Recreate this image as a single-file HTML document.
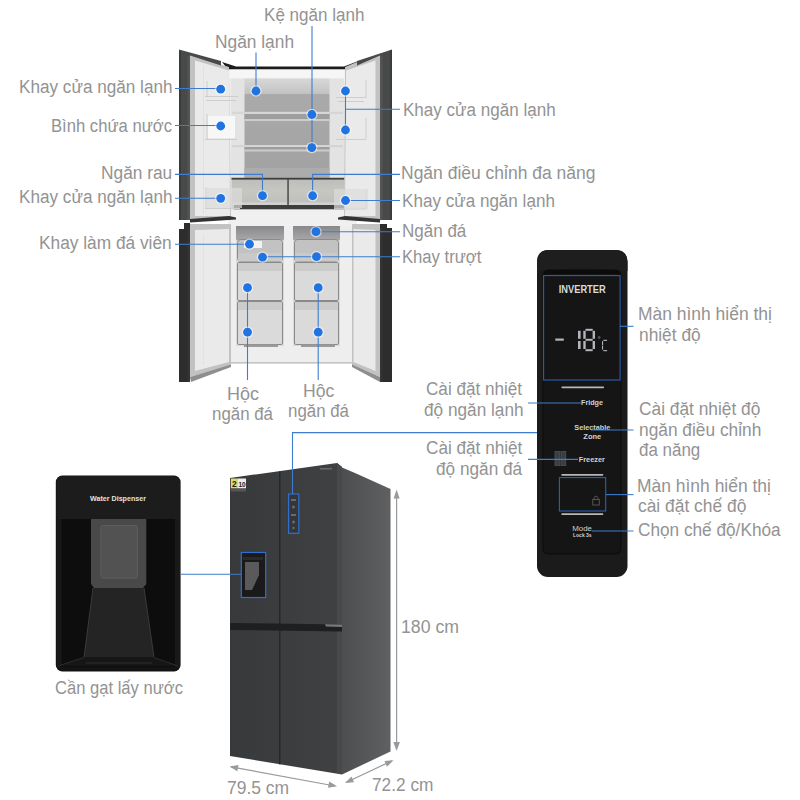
<!DOCTYPE html>
<html><head><meta charset="utf-8"><style>
html,body{margin:0;padding:0;background:#fff;}
body{width:800px;height:800px;position:relative;overflow:hidden;}
svg{position:absolute;left:0;top:0;}
.t{position:absolute;font-family:"Liberation Sans",sans-serif;font-size:18px;line-height:20px;color:#939393;white-space:nowrap;transform-origin:0 0;}
</style></head><body>
<svg width="800" height="800" viewBox="0 0 800 800">
<defs>
  <linearGradient id="sideG" x1="0" x2="1" y1="0" y2="0">
    <stop offset="0" stop-color="#4d4e50"/><stop offset="1" stop-color="#5f6062"/>
  </linearGradient>
  <linearGradient id="crisp" x1="0" x2="0" y1="0" y2="1"><stop offset="0" stop-color="#bcbcb8"/><stop offset="0.4" stop-color="#c6c6c2"/><stop offset="1" stop-color="#bcbcb8"/></linearGradient>
  <linearGradient id="backG" x1="0" x2="0" y1="0" y2="1">
    <stop offset="0" stop-color="#aaaaaa"/><stop offset="1" stop-color="#a2a2a2"/>
  </linearGradient>
  <linearGradient id="topG" x1="0" x2="0" y1="0" y2="1"><stop offset="0" stop-color="#d8d8d8"/><stop offset="1" stop-color="#c2c2c2"/></linearGradient>
  <linearGradient id="fzTop" x1="0" x2="0" y1="0" y2="1"><stop offset="0" stop-color="#88888b"/><stop offset="1" stop-color="#a8a8aa"/></linearGradient>
  <linearGradient id="frontG" x1="0" x2="1" y1="0" y2="0"><stop offset="0" stop-color="#38393b"/><stop offset="1" stop-color="#404143"/></linearGradient>
</defs>

<!-- ============ TOP OPEN FRIDGE ============ -->
<!-- cabinet body -->
<rect x="228" y="67" width="129" height="297" fill="#eeeeee"/>
<polygon points="222,62 236,66.5 344,66.5 357,61.5 357,69.5 228,69.5" fill="#1c1c1c"/>
<rect x="229" y="69.5" width="127" height="9" fill="#f6f6f6"/>
<!-- fridge interior -->
<rect x="231" y="78.5" width="113" height="100" fill="#e3e3e3"/>
<rect x="244.5" y="78.5" width="85" height="15.5" fill="url(#topG)"/>
<rect x="244.5" y="94" width="85" height="84" fill="url(#backG)"/>
<!-- shelves -->
<rect x="232" y="111.8" width="111" height="2.2" fill="#d6d6d6"/>
<rect x="244.5" y="114" width="85" height="5" fill="#9e9e9e"/>
<rect x="244.5" y="119" width="85" height="2" fill="#cdcdcd"/>
<rect x="232" y="145" width="111" height="2.2" fill="#d4d4d4"/>
<rect x="244.5" y="147.2" width="85" height="2.3" fill="#9c9c9c"/>
<rect x="244.5" y="149.5" width="85" height="2" fill="#cbcbcb"/>
<rect x="244.5" y="168" width="85" height="10" fill="#acacac"/>
<!-- crisper -->
<rect x="231.5" y="178" width="113" height="31.5" fill="url(#crisp)"/>
<rect x="231.5" y="177.8" width="113" height="1.8" fill="#3e3e3e"/>
<rect x="232" y="202.3" width="112" height="2.7" fill="#d0d0ce"/>
<rect x="234" y="205" width="110" height="4.5" fill="#3e3e3e"/>
<rect x="287.3" y="179" width="1.5" height="27" fill="#4a4a4a"/>
<!-- middle band -->
<rect x="228" y="209.5" width="129" height="16.5" fill="#f0f0f0"/>
<!-- freezer compartments -->
<rect x="236" y="226" width="48" height="120" fill="#dadada"/>
<rect x="293" y="226" width="47" height="120" fill="#dadada"/>
<rect x="236" y="226" width="48" height="14" fill="url(#fzTop)"/>
<rect x="293" y="226" width="47" height="14" fill="url(#fzTop)"/>
<rect x="238" y="240" width="44" height="13" fill="#c2c2c2"/>
<rect x="295" y="240" width="43" height="13" fill="#c2c2c2"/>
<g fill="none" stroke="#8a8a8a" stroke-width="1">
  <rect x="237.5" y="239.5" width="45" height="22" rx="3"/>
  <rect x="294.5" y="239.5" width="44" height="22" rx="3"/>
  <rect x="237.5" y="262.5" width="45" height="38" rx="1.5"/>
  <rect x="294.5" y="262.5" width="44" height="38" rx="1.5"/>
  <rect x="237.5" y="301.5" width="45" height="43" rx="1.5"/>
  <rect x="294.5" y="301.5" width="44" height="43" rx="1.5"/>
</g>
<rect x="238" y="253" width="44" height="8.5" fill="#c9c9c9"/>
<rect x="295" y="253" width="43" height="8.5" fill="#c9c9c9"/>
<rect x="238" y="263" width="44" height="8" fill="#cbcbcb"/>
<rect x="295" y="263" width="43" height="8" fill="#cbcbcb"/>
<rect x="238" y="302" width="44" height="8" fill="#cbcbcb"/>
<rect x="295" y="302" width="43" height="8" fill="#cbcbcb"/>
<rect x="244" y="241" width="18" height="7" fill="#f2f2f2"/>
<rect x="244" y="344.5" width="34" height="2.5" fill="#9a9a9a"/>
<rect x="301" y="344.5" width="34" height="2.5" fill="#9a9a9a"/>
<rect x="228" y="362" width="129" height="1.5" fill="#c4c4c4"/>

<!-- left upper door -->
<polygon points="190,55 229,67 231,220 190,220" fill="#c2c2c2"/>
<polygon points="195,60.5 229,70.5 230,216 195,216" fill="#eaeaea"/>
<rect x="203" y="66" width="1" height="148" fill="#e0e0e0"/>
<polygon points="179,49.5 221,61 221,65.5 190,55.5 190,220 179,220" fill="#484a4a"/>
<rect x="179" y="51" width="1.8" height="169" fill="#393a3a"/>
<rect x="187.5" y="56" width="2.5" height="164" fill="#535555"/>
<!-- left door bins -->
<g fill="none" stroke="#cdcdcd" stroke-width="1">
  <path d="M205 96.5H238M206 100.5H236"/>
  <path d="M205 139.5H237"/>
  <path d="M205 208.5H240"/>
  <path d="M207 81V97M207 114V139M206 187V208"/>
</g>
<rect x="208" y="116" width="27" height="22" fill="#f7f7f7"/>
<rect x="206" y="188" width="36" height="20" fill="#dcdcdc" opacity="0.7"/>

<!-- right upper door -->
<polygon points="380,55 357,62 345,67 344,220 380,220" fill="#c2c2c2"/>
<polygon points="375.5,60.5 346,70.5 345,216 375.5,216" fill="#eaeaea"/>
<polygon points="392,49.5 357,61 357,65.5 380,55.5 380,220 392,220" fill="#484a4a"/>
<rect x="390.2" y="50" width="1.8" height="170" fill="#393a3a"/>
<rect x="380" y="56" width="2.5" height="164" fill="#535555"/>
<g fill="none" stroke="#cdcdcd" stroke-width="1">
  <path d="M336 97.5H366M338 101.5H364"/>
  <path d="M336 139.5H366"/>
  <path d="M334 209H366"/>
  <path d="M366 80V98M366 118V139M366 190V209"/>
</g>
<rect x="334" y="189" width="34" height="20" fill="#dcdcdc" opacity="0.7"/>

<!-- hinge bars -->
<polygon points="190,219 229,216 236,217.5 236,219.5 190,222.5" fill="#333335"/>
<polygon points="380,219 345,216 338,217.5 338,219.5 380,222.5" fill="#333335"/>

<!-- left lower door -->
<polygon points="190,224 231,224 231,365 190,377" fill="#c2c2c2"/>
<polygon points="195,230 229,229 229,362 195,371" fill="#eaeaea"/>
<rect x="203" y="234" width="1" height="130" fill="#e2e2e2"/>
<polygon points="184,223 190,223 190,382 179,382 179,229 184,229" fill="#2c2d2c"/>
<rect x="187.5" y="229" width="2.5" height="153" fill="#333433"/>
<polygon points="190,377 231,364.5 231,367 191,382" fill="#8e8e8e"/>
<!-- right lower door -->
<polygon points="352,224 380,224 380,377 352,365" fill="#c2c2c2"/>
<polygon points="353.5,229 375.5,230 375.5,371 353.5,362" fill="#eaeaea"/>
<polygon points="380,224 387,224 387,228 392,228 392,382 380,382" fill="#2c2d2c"/>
<rect x="380" y="228" width="2.5" height="154" fill="#333433"/>
<polygon points="352,364.5 380,377 380,382 352,367" fill="#8e8e8e"/>

<!-- ============ CONTROL PANEL ============ -->
<rect x="537" y="250" width="90.5" height="327" rx="11" fill="#1b1b1b"/>
<path d="M537 262Q537 250 549 250H615Q627.5 250 627.5 262V271Q582 266 537 271Z" fill="#1e1e1e"/>
<rect x="542.5" y="269.5" width="79" height="285" rx="6" fill="#0c0c0c"/>
<rect x="543.5" y="274" width="77" height="279.5" rx="5" fill="#151515"/>
<rect x="543.6" y="275.6" width="76.5" height="104.4" fill="none" stroke="#2d60b0" stroke-width="1.1"/>
<text x="582.2" y="293" font-family="Liberation Sans" font-weight="bold" font-size="10" fill="#dadada" text-anchor="middle" textLength="47" lengthAdjust="spacingAndGlyphs">INVERTER</text>
<g fill="#b4b4bc">
  <rect x="555.3" y="338.5" width="8.5" height="2.2"/>
  <rect x="578" y="330.8" width="2.6" height="8"/>
  <rect x="578" y="341" width="2.6" height="8"/>
  <rect x="583.3" y="330.8" width="2.4" height="8"/>
  <rect x="583.3" y="341" width="2.4" height="8"/>
  <rect x="592.6" y="330.8" width="2.4" height="8"/>
  <rect x="592.6" y="341" width="2.4" height="8"/>
  <rect x="585.5" y="328.8" width="7.2" height="2"/>
  <rect x="585.5" y="338.8" width="7.2" height="2"/>
  <rect x="585.5" y="349.2" width="7.2" height="2"/>
  <circle cx="599.2" cy="337.5" r="0.9" fill="none" stroke="#a0a0a8" stroke-width="0.6"/>
  <rect x="603.3" y="339.8" width="3.8" height="1.1"/><rect x="602" y="341.2" width="1.1" height="3.8"/><rect x="602" y="345.6" width="1.1" height="4"/><rect x="603.3" y="350.1" width="3.8" height="1.1"/>
</g>
<rect x="561.4" y="386.5" width="42.7" height="1.7" rx="0.8" fill="#b8b8b8"/>
<g font-family="Liberation Sans" font-weight="bold" fill="#d2d2d2">
<text x="581" y="405.3" font-size="7.6" textLength="22" lengthAdjust="spacingAndGlyphs">Fridge</text>
<text x="574.3" y="429.5" font-size="7.6" textLength="36" lengthAdjust="spacingAndGlyphs">Selectable</text>
<text x="583.3" y="438.5" font-size="7.6" textLength="18" lengthAdjust="spacingAndGlyphs">Zone</text>
<text x="578.8" y="461.5" font-size="7.6" textLength="26" lengthAdjust="spacingAndGlyphs">Freezer</text>
<text x="572.3" y="530.5" font-size="7.6" font-weight="normal" textLength="19.7" lengthAdjust="spacingAndGlyphs">Mode</text>
<text x="573" y="537" font-size="5.2" textLength="18.6" lengthAdjust="spacingAndGlyphs">Lock 3s</text>
</g>
<g fill="#3a3d44" stroke="#50535a" stroke-width="0.8">
  <rect x="555" y="451.5" width="4.8" height="14"/>
  <rect x="561" y="451.5" width="4.8" height="14"/>
</g>
<rect x="561.3" y="474" width="42" height="1.7" rx="0.8" fill="#b8b8b8"/>
<rect x="559.4" y="477.6" width="46.3" height="33.4" fill="none" stroke="#2d60b0" stroke-width="1.1"/>
<rect x="561.3" y="513.3" width="42" height="1.7" rx="0.8" fill="#b8b8b8"/>
<g fill="none" stroke="#55555a" stroke-width="1">
  <rect x="592.8" y="499.5" width="6.5" height="5.5"/>
  <path d="M594 499.5V497.5Q596 494.5 598 497.5V499.5"/>
</g>

<!-- ============ DISPENSER ============ -->
<rect x="55.8" y="475.5" width="124.8" height="196" rx="6.5" fill="#131313"/>
<rect x="56.5" y="476" width="123.5" height="43" rx="6" fill="#1c1c1c"/>
<rect x="56.5" y="500" width="123.5" height="19" fill="#1c1c1c"/>
<rect x="60" y="519" width="117" height="148" fill="#0d0d0d"/>
<rect x="56.5" y="519" width="5" height="148" fill="#191919"/>
<rect x="175" y="519" width="5" height="148" fill="#191919"/>
<path d="M91 519H146.3V584L143 588H94L91 584Z" fill="#494949"/>
<rect x="100.8" y="525.6" width="36.7" height="52.5" rx="2" fill="#525252" stroke="#5e5e5e" stroke-width="1"/>
<polygon points="93,588 144,588 154,657.5 84,657.5" fill="#242424"/>
<path d="M93 588L84 657.5M144 588L154 657.5" stroke="#3a3a3a" stroke-width="1"/>
<polygon points="84,657.5 154,657.5 180,666 56.5,666" fill="#161616"/>
<path d="M84 657.5L58 666M154 657.5L178 666M86 663H152" stroke="#2c2c2c" stroke-width="1" fill="none"/>
<text x="90" y="501" font-family="Liberation Sans" font-weight="bold" font-size="8" fill="#e2e2e2" textLength="56" lengthAdjust="spacingAndGlyphs">Water Dispenser</text>

<!-- ============ STANDING FRIDGE ============ -->
<polygon points="342,467.5 355,473 390.5,489 390.5,751.5 342,774.5" fill="url(#sideG)"/>
<polygon points="230,478 337,463 342,467 342,774.5 230,756" fill="url(#frontG)"/>
<polygon points="337,463 342,467 342,774 337,773" fill="#48494b"/>
<polygon points="279,471.5 280.5,471.3 280.5,764.5 279,764.3" fill="#262729"/>
<polygon points="230,623 342,624.5 342,631.5 230,630" fill="#1e1f21"/>
<polygon points="325,624.3 342,624.5 342,627 326,626.5" fill="#77787a"/>
<rect x="230.8" y="478.5" width="7.2" height="10" fill="#dcd86a"/>
<rect x="238" y="478.5" width="8" height="10" fill="#ececec"/>
<text x="234.4" y="487" font-family="Liberation Sans" font-weight="bold" font-size="8.5" fill="#222" text-anchor="middle">2</text>
<text x="242" y="486.5" font-family="Liberation Sans" font-weight="bold" font-size="6.5" fill="#222" text-anchor="middle">10</text>
<rect x="230.8" y="488.5" width="15.2" height="3" fill="#555"/>
<rect x="320" y="468" width="12" height="1.5" fill="#6a6a6c"/>
<rect x="288.6" y="494" width="10.2" height="39.3" fill="#353638" stroke="#2f6fd0" stroke-width="1.2"/>
<g fill="#6a6a6a"><rect x="291" y="499" width="5" height="2"/><circle cx="293.5" cy="507" r="1.5"/><rect x="291" y="514" width="5" height="2"/><circle cx="293.5" cy="522" r="1.5"/><circle cx="293.5" cy="528" r="1.2"/></g>
<rect x="241.3" y="552.5" width="24.4" height="45" fill="#1a1a1a" stroke="#2f6fd0" stroke-width="1.2"/>
<polygon points="245,562 259,562 259,575 252,590 245,590" fill="#5a5a5a"/>
<rect x="243" y="557" width="20" height="3" fill="#2a2a2a"/>

<!-- dimension arrows -->
<g stroke="#9a9a9a" stroke-width="1.2" fill="none">
  <path d="M396.6 492V748"/>
  <path d="M231 766.8L335 786"/>
  <path d="M346 782.5L392 760.8"/>
</g>
<g fill="#9a9a9a">
  <polygon points="396.6,489.5 393.6,498.5 399.6,498.5"/>
  <polygon points="396.6,751 393.3,742 399.9,742"/>
  <polygon points="229.5,766.5 238.5,765 237.3,771.3"/>
  <polygon points="337,786.3 328,787.8 329.2,781.5"/>
  <polygon points="345,783 351.5,776.5 354,782.3"/>
  <polygon points="393.5,760.3 387,766.8 384.5,761"/>
</g>

<!-- annotation lines -->
<g stroke="#3f7ccc" stroke-width="1.1" fill="none">
  <path d="M175 88.5H221"/>
  <path d="M175 125.5H221"/>
  <path d="M175 174.4H262.5V196"/>
  <path d="M175 198.3H221"/>
  <path d="M175 244.3H250"/>
  <path d="M256 52.5V91"/>
  <path d="M312 26V148"/>
  <path d="M345.5 91V130M345.5 109.3H400"/>
  <path d="M312.6 196V174.4H400"/>
  <path d="M345.5 200.5H400"/>
  <path d="M316 231.7H400"/>
  <path d="M262.5 256.7H400"/>
  <path d="M247.5 288V380"/>
  <path d="M318.2 288V380"/>
  <path d="M620 326.3H633.5"/>
  <path d="M528 403H582"/>
  <path d="M591 430H633.5"/>
  <path d="M528 459.4H578"/>
  <path d="M606 494.6H633.5"/>
  <path d="M592 531H633.5"/>
  <path d="M292.5 494V432.6H537"/>
  <path d="M181 574.3H241"/>
</g>
<g fill="#ffffff" opacity="0.55">
  <circle cx="220.7" cy="89.2" r="5.7"/>
  <circle cx="220.7" cy="126" r="5.7"/>
  <circle cx="256" cy="91" r="5.7"/>
  <circle cx="311.9" cy="114.5" r="5.7"/>
  <circle cx="311.8" cy="147.6" r="5.7"/>
  <circle cx="345.5" cy="91" r="5.7"/>
  <circle cx="345.5" cy="130" r="5.7"/>
  <circle cx="262.5" cy="195.7" r="5.7"/>
  <circle cx="312.6" cy="195.75" r="5.7"/>
  <circle cx="220.7" cy="198.3" r="5.7"/>
  <circle cx="345.5" cy="200.5" r="5.7"/>
  <circle cx="249.5" cy="244.2" r="5.7"/>
  <circle cx="316" cy="231.7" r="5.7"/>
  <circle cx="262.5" cy="257.2" r="5.7"/>
  <circle cx="316.5" cy="256.7" r="5.7"/>
  <circle cx="247.5" cy="287.7" r="5.7"/>
  <circle cx="247.5" cy="332.2" r="5.7"/>
  <circle cx="318.2" cy="287.7" r="5.7"/>
  <circle cx="318.2" cy="332.2" r="5.7"/>
</g>
<g fill="#1f73e2">
  <circle cx="220.7" cy="89.2" r="4.4"/>
  <circle cx="220.7" cy="126" r="4.4"/>
  <circle cx="256" cy="91" r="4.4"/>
  <circle cx="311.9" cy="114.5" r="4.4"/>
  <circle cx="311.8" cy="147.6" r="4.4"/>
  <circle cx="345.5" cy="91" r="4.4"/>
  <circle cx="345.5" cy="130" r="4.4"/>
  <circle cx="262.5" cy="195.7" r="4.4"/>
  <circle cx="312.6" cy="195.75" r="4.4"/>
  <circle cx="220.7" cy="198.3" r="4.4"/>
  <circle cx="345.5" cy="200.5" r="4.4"/>
  <circle cx="249.5" cy="244.2" r="4.4"/>
  <circle cx="316" cy="231.7" r="4.4"/>
  <circle cx="262.5" cy="257.2" r="4.4"/>
  <circle cx="316.5" cy="256.7" r="4.4"/>
  <circle cx="247.5" cy="287.7" r="4.4"/>
  <circle cx="247.5" cy="332.2" r="4.4"/>
  <circle cx="318.2" cy="287.7" r="4.4"/>
  <circle cx="318.2" cy="332.2" r="4.4"/>
</g>

</svg>

<div class="t" style="left:19.15px;top:77.00px;transform:scaleX(0.9525)">Khay cửa ngăn lạnh</div>
<div class="t" style="left:51.38px;top:115.70px;transform:scaleX(0.9246)">Bình chứa nước</div>
<div class="t" style="left:101.29px;top:162.80px;transform:scaleX(0.9623)">Ngăn rau</div>
<div class="t" style="left:19.15px;top:187.20px;transform:scaleX(0.9525)">Khay cửa ngăn lạnh</div>
<div class="t" style="left:39.44px;top:232.90px;transform:scaleX(0.9606)">Khay làm đá viên</div>
<div class="t" style="left:264.05px;top:4.50px;transform:scaleX(0.9476)">Kệ ngăn lạnh</div>
<div class="t" style="left:214.79px;top:32.00px;transform:scaleX(0.9630)">Ngăn lạnh</div>
<div class="t" style="left:402.95px;top:99.70px;transform:scaleX(0.9469)">Khay cửa ngăn lạnh</div>
<div class="t" style="left:401.43px;top:163.40px;transform:scaleX(0.9714)">Ngăn điều chỉnh đa năng</div>
<div class="t" style="left:402.05px;top:190.80px;transform:scaleX(0.9487)">Khay cửa ngăn lạnh</div>
<div class="t" style="left:402.06px;top:221.10px;transform:scaleX(0.9449)">Ngăn đá</div>
<div class="t" style="left:402.08px;top:246.70px;transform:scaleX(0.9244)">Khay trượt</div>
<div class="t" style="left:227.00px;top:383.75px;transform:scaleX(1.0000)">Hộc</div>
<div class="t" style="left:212.40px;top:404.00px;transform:scaleX(0.9371)">ngăn đá</div>
<div class="t" style="left:303.02px;top:381.00px;transform:scaleX(0.9774)">Hộc</div>
<div class="t" style="left:287.75px;top:401.30px;transform:scaleX(0.9371)">ngăn đá</div>
<div class="t" style="left:637.83px;top:303.90px;transform:scaleX(0.9693)">Màn hình hiển thị</div>
<div class="t" style="left:638.80px;top:325.20px;transform:scaleX(0.9625)">nhiệt độ</div>
<div class="t" style="left:426.25px;top:378.90px;transform:scaleX(0.9510)">Cài đặt nhiệt</div>
<div class="t" style="left:423.80px;top:399.70px;transform:scaleX(0.9562)">độ ngăn lạnh</div>
<div class="t" style="left:638.80px;top:398.50px;transform:scaleX(0.9619)">Cài đặt nhiệt độ</div>
<div class="t" style="left:638.80px;top:419.70px;transform:scaleX(0.9622)">ngăn điều chỉnh</div>
<div class="t" style="left:638.80px;top:439.90px;transform:scaleX(0.9415)">đa năng</div>
<div class="t" style="left:425.75px;top:438.20px;transform:scaleX(0.9534)">Cài đặt nhiệt</div>
<div class="t" style="left:436.00px;top:458.50px;transform:scaleX(0.9560)">độ ngăn đá</div>
<div class="t" style="left:636.78px;top:476.10px;transform:scaleX(0.9697)">Màn hình hiển thị</div>
<div class="t" style="left:637.75px;top:496.25px;transform:scaleX(0.9665)">cài đặt chế độ</div>
<div class="t" style="left:637.75px;top:520.30px;transform:scaleX(0.9563)">Chọn chế độ/Khóa</div>
<div class="t" style="left:55.00px;top:677.50px;transform:scaleX(0.9209)">Cần gạt lấy nước</div>
<div class="t" style="left:400.52px;top:616.90px;transform:scaleX(0.9828)">180 cm</div>
<div class="t" style="left:227.40px;top:778.00px;transform:scaleX(0.9703)">79.5 cm</div>
<div class="t" style="left:372.00px;top:775.00px;transform:scaleX(0.9609)">72.2 cm</div>
</body></html>
